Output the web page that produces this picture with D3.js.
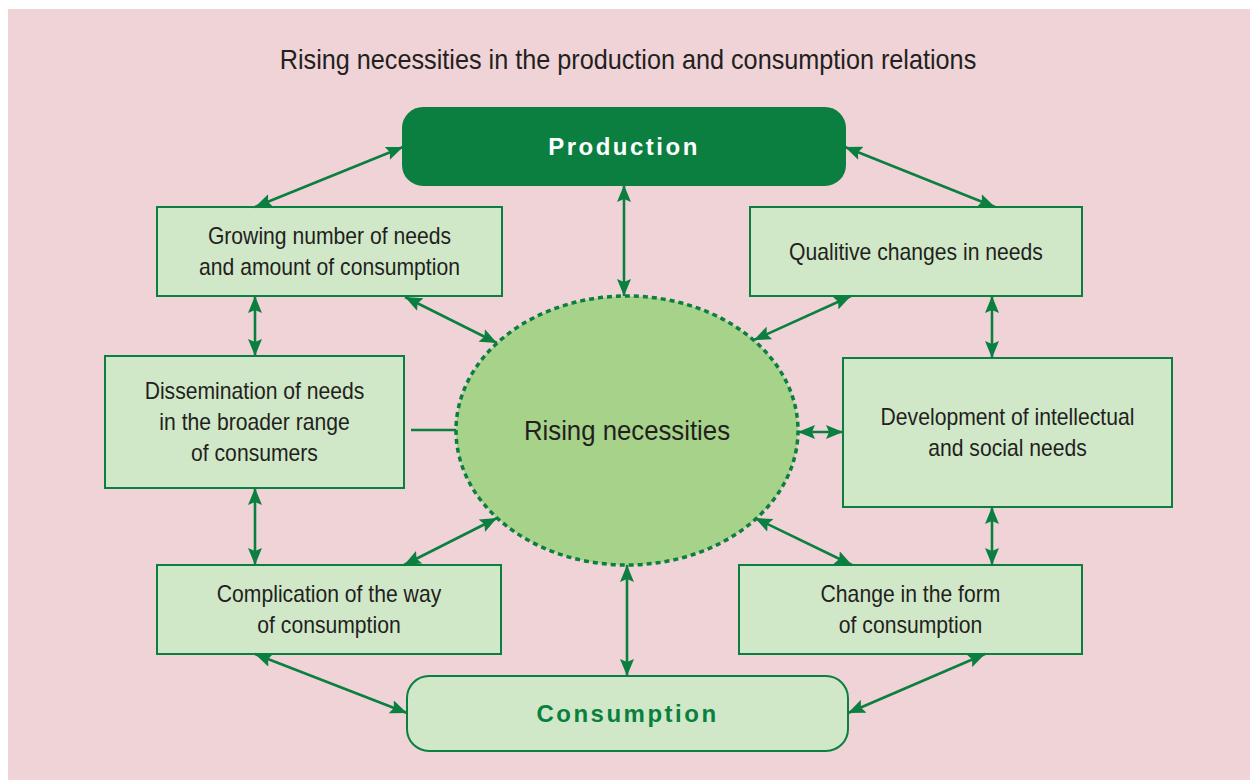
<!DOCTYPE html>
<html>
<head>
<meta charset="utf-8">
<script src="https://cdn.jsdelivr.net/npm/d3@7"></script>
<style>
  body { margin: 0; background: #ffffff; }
  svg { display: block; }
</style>
</head>
<body>
<div id="chart"></div>
<script>
// ---- diagram content ----
const titleText = 'Rising necessities in the production and consumption relations'
const centerLabel = 'Rising necessities'
const hubLabels = ['Production', 'Consumption']
const boxIds = ['growing', 'qualitive', 'dissemination', 'development', 'complication', 'change']
const boxLabels = [
  ['Growing number of needs', 'and amount of consumption'],
  ['Qualitive changes in needs'],
  ['Dissemination of needs', 'in the broader range', 'of consumers'],
  ['Development of intellectual', 'and social needs'],
  ['Complication of the way', 'of consumption'],
  ['Change in the form', 'of consumption']
]
// connections between nodes: [from, to, double headed?]
const links = [
  ['growing', 'production', true],
  ['qualitive', 'production', true],
  ['production', 'ellipse', true],
  ['growing', 'ellipse', true],
  ['qualitive', 'ellipse', true],
  ['growing', 'dissemination', true],
  ['qualitive', 'development', true],
  ['dissemination', 'ellipse', false],
  ['ellipse', 'development', true],
  ['dissemination', 'complication', true],
  ['development', 'change', true],
  ['complication', 'ellipse', true],
  ['change', 'ellipse', true],
  ['ellipse', 'consumption', true],
  ['complication', 'consumption', true],
  ['change', 'consumption', true]
]

// ---- layout (pixels) ----
const W = 1250, H = 780
const C = { dark: '#0b7f40', light: '#d0e8c8', ell: '#a6d28a', bg: '#efd3d6', text: '#231f20' }
const boxGeom = {
  growing:       { x: 157, y: 207, w: 345, h: 89 },
  qualitive:     { x: 750, y: 207, w: 332, h: 89 },
  dissemination: { x: 105, y: 356, w: 299, h: 132 },
  development:   { x: 843, y: 358, w: 329, h: 149 },
  complication:  { x: 157, y: 565, w: 344, h: 89 },
  change:        { x: 739, y: 565, w: 343, h: 89 }
}
const hubGeom = {
  production:  { x: 403, y: 108, w: 442, h: 77, rx: 20 },
  consumption: { x: 407, y: 676, w: 441, h: 75, rx: 22 }
}
const ellipseGeom = { cx: 627, cy: 430.5, rx: 171, ry: 134.5 }
// anchor points of each link end
const linkEnds = [
  [[255, 207], [403, 147]],
  [[995, 207], [845, 147]],
  [[624, 185], [624, 296]],
  [[405, 297], [497, 343]],
  [[851, 296], [754, 340]],
  [[255, 296], [255, 356]],
  [[992, 296], [992, 358]],
  [[411, 430], [456, 430]],
  [[798, 432], [843, 432]],
  [[255, 488], [255, 565]],
  [[992, 507], [992, 565]],
  [[497, 518], [404, 565]],
  [[755, 518], [852, 565]],
  [[627, 565], [627, 676]],
  [[255, 654], [407, 713]],
  [[985, 654], [848, 713]]
]

const svg = d3.select('#chart').append('svg')
  .attr('width', W).attr('height', H)

svg.append('rect').attr('x', 8).attr('y', 9).attr('width', W - 8).attr('height', H - 9)
  .attr('fill', C.bg)

const defs = svg.append('defs')
defs.append('marker').attr('id', 'head')
  .attr('viewBox', '0 0 17 14').attr('refX', 17).attr('refY', 7)
  .attr('markerUnits', 'userSpaceOnUse')
  .attr('markerWidth', 17).attr('markerHeight', 14)
  .attr('orient', 'auto-start-reverse')
  .append('path').attr('d', 'M0,0 L17,7 L0,14 L3,7 Z').attr('fill', C.dark)

const xs = 0.92 // horizontal squeeze of the typeface
function label(g, x, y, str, size, opts) {
  opts = opts || {}
  const t = g.append('text')
    .attr('transform', 'translate(' + x + ',' + y + ') scale(' + (opts.sx || xs) + ',1)')
    .attr('text-anchor', 'middle')
    .attr('dy', '0.35em')
    .attr('font-family', 'Liberation Sans, Arial, Helvetica, sans-serif')
    .attr('font-size', size)
    .attr('font-weight', opts.bold ? 700 : 400)
    .attr('letter-spacing', opts.spacing || 0)
    .attr('fill', opts.fill || C.text)
    .text(str)
  return t
}

// title, squeezed to the measured width
const title = label(svg, 628, 60, titleText, 27, { sx: 1 })
const tw = title.node().getComputedTextLength()
title.attr('transform', 'translate(628,60) scale(' + (697 / tw) + ',1)')

// ellipse
svg.append('ellipse')
  .attr('cx', ellipseGeom.cx).attr('cy', ellipseGeom.cy)
  .attr('rx', ellipseGeom.rx).attr('ry', ellipseGeom.ry)
  .attr('fill', C.ell).attr('stroke', C.dark)
  .attr('stroke-width', 3.5).attr('stroke-dasharray', '5,4')
label(svg, ellipseGeom.cx, ellipseGeom.cy, centerLabel, 28)

// hub boxes
const hubs = svg.selectAll('.hub').data(hubLabels).enter().append('g').attr('class', 'hub')
hubs.append('rect')
  .attr('x', (d) => hubGeom[d.toLowerCase()].x)
  .attr('y', (d) => hubGeom[d.toLowerCase()].y)
  .attr('width', (d) => hubGeom[d.toLowerCase()].w)
  .attr('height', (d) => hubGeom[d.toLowerCase()].h)
  .attr('rx', (d) => hubGeom[d.toLowerCase()].rx)
  .attr('fill', (d, i) => i == 0 ? C.dark : C.light)
  .attr('stroke', C.dark).attr('stroke-width', 2)
hubs.each(function (d, i) {
  const b = hubGeom[d.toLowerCase()]
  label(d3.select(this), b.x + b.w / 2, b.y + b.h / 2, d, 24,
    { bold: true, spacing: 2.5, sx: 1, fill: i == 0 ? '#ffffff' : C.dark })
})

// text boxes
const boxes = svg.selectAll('.box').data(boxIds).enter().append('g').attr('class', 'box')
boxes.append('rect')
  .attr('x', (d) => boxGeom[d].x).attr('y', (d) => boxGeom[d].y)
  .attr('width', (d) => boxGeom[d].w).attr('height', (d) => boxGeom[d].h)
  .attr('fill', C.light).attr('stroke', C.dark).attr('stroke-width', 2)
boxes.each(function (d, i) {
  const b = boxGeom[d]
  const lines = boxLabels[i]
  const lh = 31
  lines.forEach((ln, j) => {
    const y = b.y + b.h / 2 + (j - (lines.length - 1) / 2) * lh
    label(d3.select(this), b.x + b.w / 2, y, ln, 23)
  })
})

// connectors
svg.selectAll('.link').data(links).enter().append('line').attr('class', 'link')
  .attr('x1', (d, i) => linkEnds[i][0][0]).attr('y1', (d, i) => linkEnds[i][0][1])
  .attr('x2', (d, i) => linkEnds[i][1][0]).attr('y2', (d, i) => linkEnds[i][1][1])
  .attr('stroke', C.dark).attr('stroke-width', 2.6)
  .attr('marker-start', (d) => d[2] ? 'url(#head)' : null)
  .attr('marker-end', (d) => d[2] ? 'url(#head)' : null)
</script>
</body>
</html>
